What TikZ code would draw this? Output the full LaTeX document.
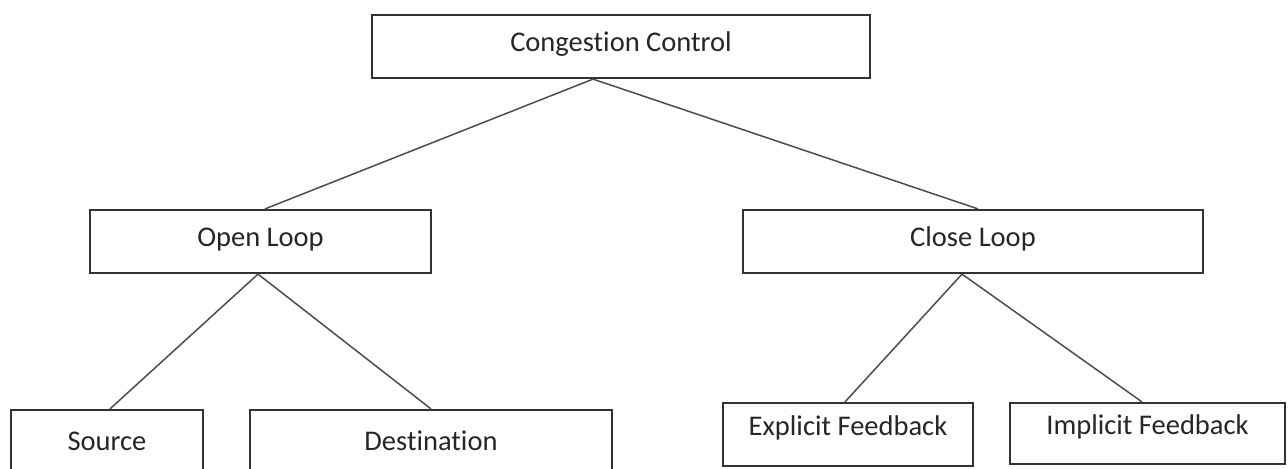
\documentclass[tikz,border=0pt]{standalone}
\usepackage{fontspec}
\setmainfont{Carlito}[Ligatures={NoCommon,NoRare,NoContextual}]
\begin{document}
\begin{tikzpicture}[x=0.5pt,y=-0.5pt,
  box/.style={draw=black!80, line width=1.1pt, fill=white, font=\fontsize{14.25pt}{17pt}\selectfont, text=black!85, inner sep=0pt, text height=0.66em, text depth=0.2em},
  conn/.style={draw=black!70, line width=0.75pt}]
\useasboundingbox (0,0) rectangle (1288,468);
\node[box, minimum width=249pt, minimum height=31.5pt] (cc) at (621,46.5) {Congestion Control};
\node[box, minimum width=170.5pt, minimum height=31.5pt] (ol) at (260.5,241.5) {Open Loop};
\node[box, minimum width=230pt, minimum height=31.5pt] (cl) at (973,241.5) {Close Loop};
\node[box, minimum width=96pt, minimum height=40.5pt, text depth=0.62em] (src) at (107,450.5) {Source};
\node[box, minimum width=181pt, minimum height=40.5pt, text depth=0.62em] (dst) at (431,450.5) {Destination};
\node[box, minimum width=125pt, minimum height=31.5pt, text depth=0.6em] (exp) at (848,434.5) {Explicit Feedback};
\node[box, minimum width=137.5pt, minimum height=30.5pt, text depth=0.6em] (imp) at (1147.5,433.5) {Implicit Feedback};
\draw[conn] ([xshift=-14pt]cc.south) -- ([xshift=2.25pt]ol.north);
\draw[conn] ([xshift=-14pt]cc.south) -- ([xshift=2.5pt]cl.north);
\draw[conn] ([xshift=-1.25pt]ol.south) -- ([xshift=1.5pt]src.north);
\draw[conn] ([xshift=-1.25pt]ol.south) -- (dst.north);
\draw[conn] ([xshift=-5.5pt]cl.south) -- ([xshift=-1.5pt]exp.north);
\draw[conn] ([xshift=-5.5pt]cl.south) -- ([xshift=-2.75pt]imp.north);
\end{tikzpicture}
\end{document}
